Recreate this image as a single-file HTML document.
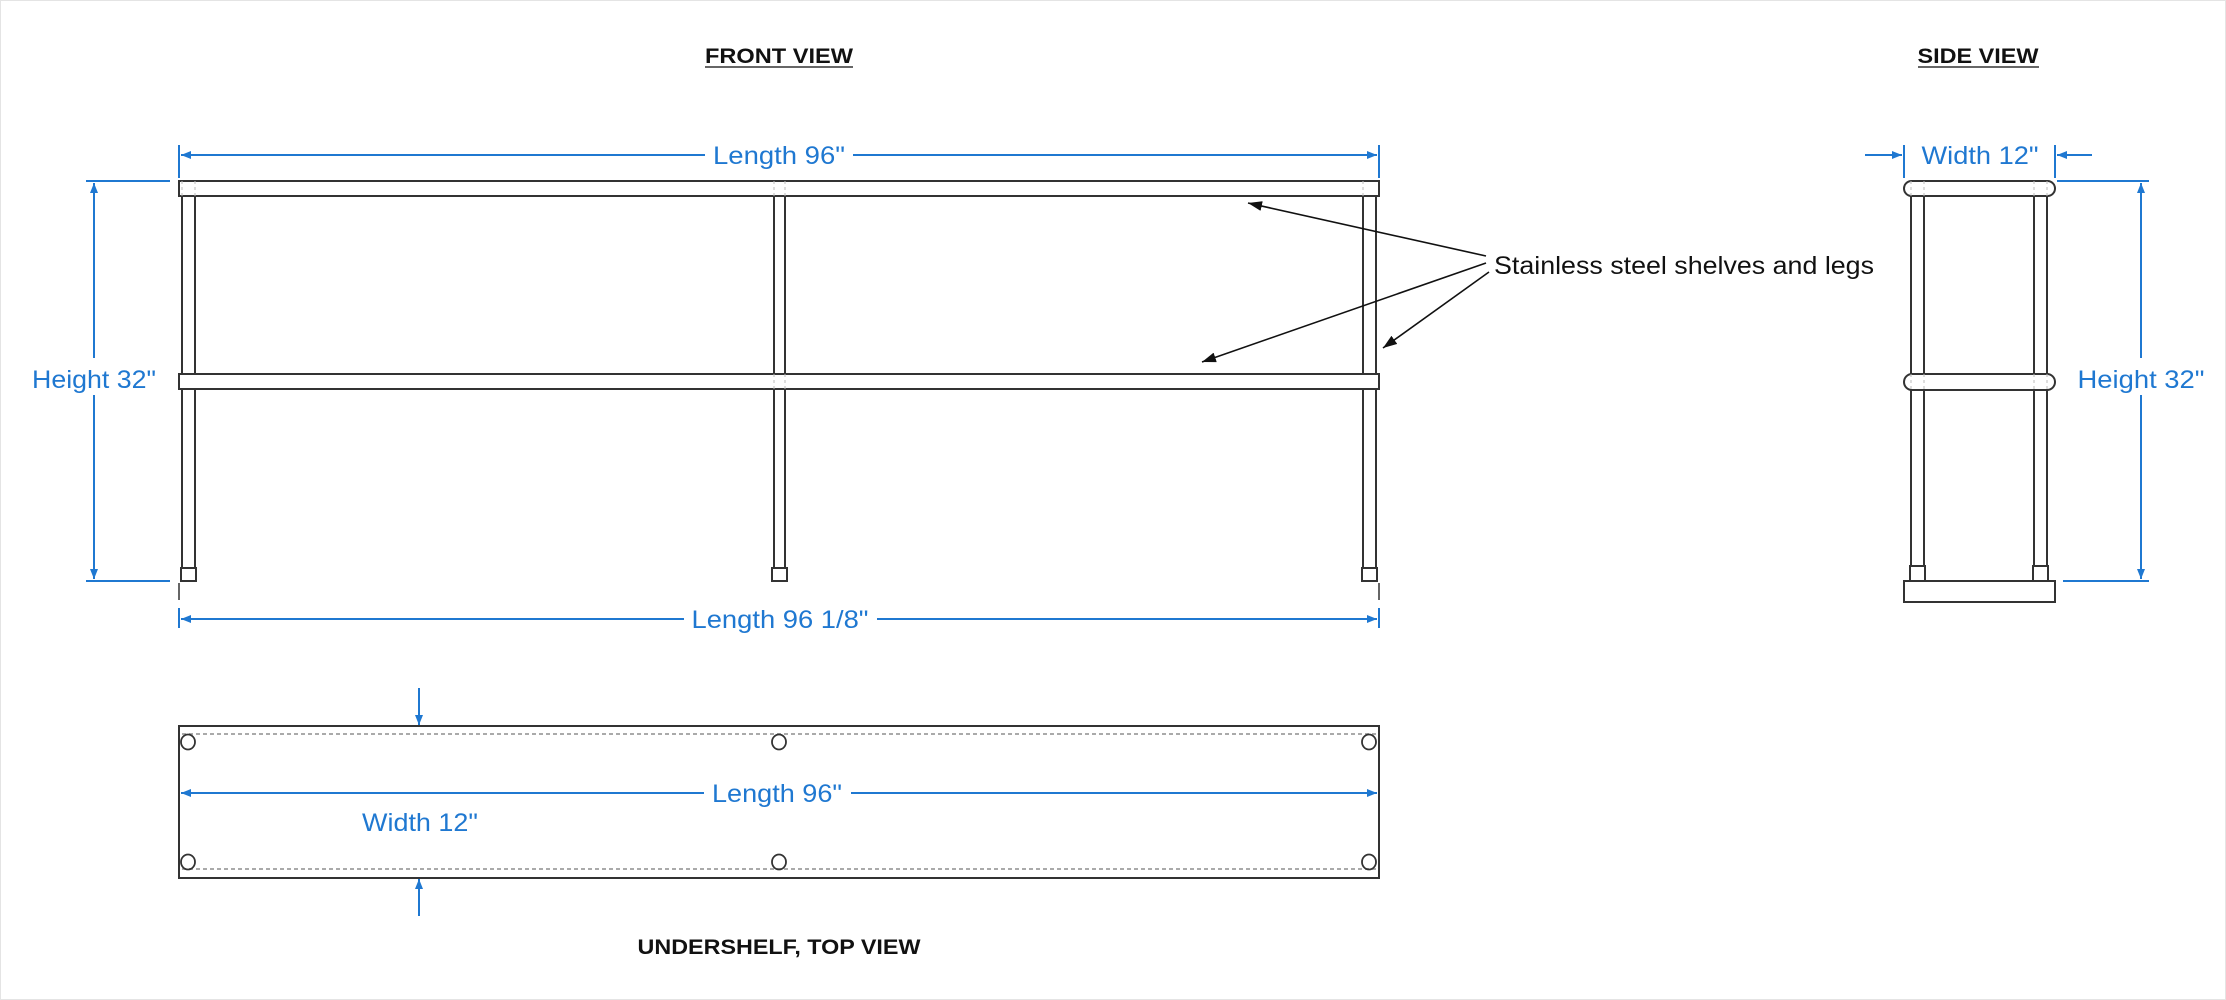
<!DOCTYPE html>
<html><head><meta charset="utf-8"><style>
html,body{margin:0;padding:0;background:#fff;}
svg{display:block;}
text{font-family:"Liberation Sans",sans-serif;}
.b{fill:#1f78d1;font-size:25px;}
.k{fill:#111;}
</style></head><body>
<svg width="2226" height="1000" viewBox="0 0 2226 1000" xmlns="http://www.w3.org/2000/svg">
<defs>
<marker id="a" markerWidth="10" markerHeight="8" refX="10" refY="4" orient="auto" markerUnits="userSpaceOnUse"><path d="M0,0 L10,4 L0,8 z" fill="#1f78d1"/></marker>
<marker id="ak" markerWidth="14" markerHeight="10" refX="14" refY="5" orient="auto" markerUnits="userSpaceOnUse"><path d="M0,0 L14,5 L0,10 z" fill="#111"/></marker>
</defs>
<rect x="0" y="0" width="2226" height="1000" fill="#fff"/>
<rect x="0.5" y="0.5" width="2225" height="999" fill="none" stroke="#e4e4e4"/>

<!-- titles -->
<text x="779" y="63" class="k" font-size="21" font-weight="bold" text-anchor="middle" textLength="148" lengthAdjust="spacingAndGlyphs">FRONT VIEW</text>
<line x1="705" y1="67" x2="853" y2="67" stroke="#333" stroke-width="1.5"/>
<text x="1978" y="63" class="k" font-size="21" font-weight="bold" text-anchor="middle" textLength="121" lengthAdjust="spacingAndGlyphs">SIDE VIEW</text>
<line x1="1918" y1="67" x2="2039" y2="67" stroke="#333" stroke-width="1.5"/>
<text x="779" y="954" class="k" font-size="21" font-weight="bold" text-anchor="middle" textLength="283" lengthAdjust="spacingAndGlyphs">UNDERSHELF, TOP VIEW</text>

<!-- FRONT VIEW structure -->
<g stroke="#333" stroke-width="2" fill="none">
<rect x="179" y="181" width="1200" height="15"/>
<rect x="179" y="374" width="1200" height="15"/>
<line x1="182" y1="196" x2="182" y2="374"/><line x1="195" y1="196" x2="195" y2="374"/>
<line x1="182" y1="389" x2="182" y2="568"/><line x1="195" y1="389" x2="195" y2="568"/>
<rect x="181" y="568" width="15" height="13"/>
<line x1="774" y1="196" x2="774" y2="374"/><line x1="785" y1="196" x2="785" y2="374"/>
<line x1="774" y1="389" x2="774" y2="568"/><line x1="785" y1="389" x2="785" y2="568"/>
<rect x="772" y="568" width="15" height="13"/>
<line x1="1363" y1="196" x2="1363" y2="374"/><line x1="1376" y1="196" x2="1376" y2="374"/>
<line x1="1363" y1="389" x2="1363" y2="568"/><line x1="1376" y1="389" x2="1376" y2="568"/>
<rect x="1362" y="568" width="15" height="13"/>
<line x1="179" y1="583" x2="179" y2="600" stroke-width="1.5"/>
<line x1="1379" y1="583" x2="1379" y2="600" stroke-width="1.5"/>
</g>
<g stroke="#bbb" stroke-width="1" stroke-dasharray="3,3">
<line x1="182" y1="181" x2="182" y2="196"/><line x1="195" y1="181" x2="195" y2="196"/>
<line x1="774" y1="181" x2="774" y2="196"/><line x1="785" y1="181" x2="785" y2="196"/>
<line x1="1363" y1="181" x2="1363" y2="196"/>
<line x1="774" y1="374" x2="774" y2="389"/><line x1="785" y1="374" x2="785" y2="389"/>
</g>

<!-- front dims -->
<g stroke="#1f78d1" stroke-width="2" fill="none">
<line x1="179" y1="145" x2="179" y2="178"/><line x1="1379" y1="145" x2="1379" y2="178"/>
<line x1="705" y1="155" x2="181" y2="155" marker-end="url(#a)"/>
<line x1="853" y1="155" x2="1377" y2="155" marker-end="url(#a)"/>
<line x1="86" y1="181" x2="170" y2="181"/><line x1="86" y1="581" x2="170" y2="581"/>
<line x1="94" y1="358" x2="94" y2="183" marker-end="url(#a)"/>
<line x1="94" y1="395" x2="94" y2="579" marker-end="url(#a)"/>
<line x1="179" y1="608" x2="179" y2="628"/><line x1="1379" y1="608" x2="1379" y2="628"/>
<line x1="684" y1="619" x2="181" y2="619" marker-end="url(#a)"/>
<line x1="877" y1="619" x2="1377" y2="619" marker-end="url(#a)"/>
</g>
<text x="779" y="164" class="b" text-anchor="middle" textLength="132" lengthAdjust="spacingAndGlyphs">Length 96"</text>
<text x="94" y="388" class="b" text-anchor="middle" textLength="124" lengthAdjust="spacingAndGlyphs">Height 32"</text>
<text x="780" y="628" class="b" text-anchor="middle" textLength="177" lengthAdjust="spacingAndGlyphs">Length 96 1/8"</text>

<!-- callout -->
<g stroke="#111" stroke-width="1.6">
<line x1="1486" y1="256" x2="1248" y2="203" marker-end="url(#ak)"/>
<line x1="1486" y1="263" x2="1202" y2="362" marker-end="url(#ak)"/>
<line x1="1489" y1="272" x2="1383" y2="348" marker-end="url(#ak)"/>
</g>
<text x="1494" y="274" class="k" font-size="25" textLength="380" lengthAdjust="spacingAndGlyphs">Stainless steel shelves and legs</text>

<!-- SIDE VIEW -->
<g stroke="#333" stroke-width="2" fill="none">
<rect x="1904" y="181" width="151" height="15" rx="7.5"/>
<rect x="1904" y="374" width="151" height="16" rx="8"/>
<line x1="1911" y1="196" x2="1911" y2="374"/><line x1="1924" y1="196" x2="1924" y2="374"/>
<line x1="2034" y1="196" x2="2034" y2="374"/><line x1="2047" y1="196" x2="2047" y2="374"/>
<line x1="1911" y1="390" x2="1911" y2="566"/><line x1="1924" y1="390" x2="1924" y2="566"/>
<line x1="2034" y1="390" x2="2034" y2="566"/><line x1="2047" y1="390" x2="2047" y2="566"/>
<rect x="1910" y="566" width="15" height="15"/><rect x="2033" y="566" width="15" height="15"/>
<rect x="1904" y="581" width="151" height="21"/>
</g>
<g stroke="#bbb" stroke-width="1" stroke-dasharray="3,3">
<line x1="1911" y1="181" x2="1911" y2="196"/><line x1="1924" y1="181" x2="1924" y2="196"/>
<line x1="2034" y1="181" x2="2034" y2="196"/><line x1="2047" y1="181" x2="2047" y2="196"/>
<line x1="1911" y1="374" x2="1911" y2="390"/><line x1="1924" y1="374" x2="1924" y2="390"/>
<line x1="2034" y1="374" x2="2034" y2="390"/><line x1="2047" y1="374" x2="2047" y2="390"/>
</g>
<g stroke="#1f78d1" stroke-width="2" fill="none">
<line x1="1904" y1="145" x2="1904" y2="178"/><line x1="2055" y1="145" x2="2055" y2="178"/>
<line x1="1865" y1="155" x2="1902" y2="155" marker-end="url(#a)"/>
<line x1="2092" y1="155" x2="2057" y2="155" marker-end="url(#a)"/>
<line x1="2057" y1="181" x2="2149" y2="181"/><line x1="2063" y1="581" x2="2149" y2="581"/>
<line x1="2141" y1="358" x2="2141" y2="183" marker-end="url(#a)"/>
<line x1="2141" y1="395" x2="2141" y2="579" marker-end="url(#a)"/>
</g>
<text x="1980" y="164" class="b" text-anchor="middle" textLength="117" lengthAdjust="spacingAndGlyphs">Width 12"</text>
<text x="2141" y="388" class="b" text-anchor="middle" textLength="127" lengthAdjust="spacingAndGlyphs">Height 32"</text>

<!-- TOP VIEW -->
<rect x="179" y="726" width="1200" height="152" fill="none" stroke="#333" stroke-width="2"/>
<g stroke="#aaa" stroke-width="2" stroke-dasharray="4,3">
<line x1="182" y1="734" x2="1376" y2="734"/><line x1="182" y1="869" x2="1376" y2="869"/>
</g>
<g stroke="#333" stroke-width="1.8" fill="none">
<ellipse cx="188" cy="742" rx="7" ry="7.5"/><ellipse cx="779" cy="742" rx="7" ry="7.5"/><ellipse cx="1369" cy="742" rx="7" ry="7.5"/>
<ellipse cx="188" cy="862" rx="7" ry="7.5"/><ellipse cx="779" cy="862" rx="7" ry="7.5"/><ellipse cx="1369" cy="862" rx="7" ry="7.5"/>
</g>
<g stroke="#1f78d1" stroke-width="2" fill="none">
<line x1="704" y1="793" x2="181" y2="793" marker-end="url(#a)"/>
<line x1="851" y1="793" x2="1377" y2="793" marker-end="url(#a)"/>
<line x1="419" y1="688" x2="419" y2="725" marker-end="url(#a)"/>
<line x1="419" y1="916" x2="419" y2="879" marker-end="url(#a)"/>
</g>
<text x="777" y="802" class="b" text-anchor="middle" textLength="130" lengthAdjust="spacingAndGlyphs">Length 96"</text>
<text x="420" y="831" class="b" text-anchor="middle" textLength="116" lengthAdjust="spacingAndGlyphs">Width 12"</text>
</svg>
</body></html>
